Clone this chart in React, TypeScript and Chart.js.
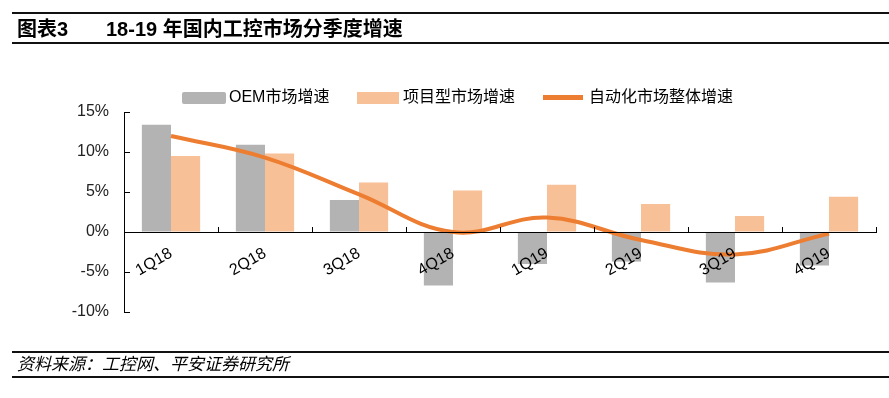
import React, { useEffect, useRef } from "react";
import { Chart, registerables } from "chart.js";

Chart.register(...registerables);

const categories = ["1Q18", "2Q18", "3Q18", "4Q18", "1Q19", "2Q19", "3Q19", "4Q19"];
const oemGrowth = [13.4, 10.9, 4.0, -6.7, -4.0, -3.7, -6.3, -4.2];
const projectGrowth = [9.5, 9.8, 6.2, 5.2, 5.9, 3.5, 2.0, 4.4];
const totalGrowth = [12.0, 9.3, 4.7, 0.0, 1.8, -1.0, -2.8, -0.2];
const seriesNames = ["OEM市场增速", "项目型市场增速", "自动化市场整体增速"];
const yTicks = [-10, -5, 0, 5, 10, 15];

const GRAY = "#B3B3B3";
const PEACH = "#F8C097";
const ORANGE = "#ED7D31";
const FONT = '"Liberation Sans", Arial, "Noto Sans CJK SC", sans-serif';

export default function App() {
  const ref = useRef<HTMLCanvasElement | null>(null);

  useEffect(() => {
    if (!ref.current) return;
    const chart = new Chart(ref.current, {
      type: "bar",
      data: {
        labels: categories,
        datasets: [
          {
            type: "line",
            label: seriesNames[2],
            data: totalGrowth,
            borderColor: ORANGE,
            backgroundColor: ORANGE,
            borderWidth: 4,
            pointRadius: 0,
            tension: 0.4,
            order: 0,
          } as any,
          {
            type: "bar",
            label: seriesNames[0],
            data: oemGrowth,
            backgroundColor: GRAY,
            order: 1,
          },
          {
            type: "bar",
            label: seriesNames[1],
            data: projectGrowth,
            backgroundColor: PEACH,
            order: 2,
          },
        ],
      },
      options: {
        responsive: false,
        animation: false,
        devicePixelRatio: 1,
        datasets: {
          bar: { barPercentage: 1.0, categoryPercentage: 0.62 },
        },
        layout: { padding: { left: 0, right: 13, top: 112, bottom: 86 } },
        plugins: { legend: { display: false }, tooltip: { enabled: false } },
        scales: {
          x: {
            position: { y: 0 } as any,
            grid: {
              drawOnChartArea: false,
              offset: true,
              tickLength: -6,
              color: "#000",
              z: 1,
            },
            border: { display: true, color: "#000", width: 1, z: 1 },
            ticks: {
              z: 2,
              maxRotation: 30,
              minRotation: 30,
              autoSkip: false,
              padding: 18,
              color: "#000",
              font: { family: FONT, size: 16 },
            },
          },
          y: {
            min: -10,
            max: 15,
            afterBuildTicks: (scale: any) => {
              scale.ticks = yTicks.map((v) => ({ value: v }));
            },
            afterFit: (scale: any) => {
              scale.width = 124;
            },
            grid: {
              drawOnChartArea: false,
              tickLength: -6,
              color: "#000",
            },
            border: { display: true, color: "#000", width: 1 },
            ticks: {
              padding: 21,
              color: "#222",
              font: { family: FONT, size: 16 },
              callback: (v: any) => `${v}%`,
            },
          },
        },
      },
    });
    return () => chart.destroy();
  }, []);

  const text: React.CSSProperties = {
    position: "absolute",
    fontFamily: FONT,
    whiteSpace: "nowrap",
    color: "#000",
  };
  const hline = (top: number): React.CSSProperties => ({
    position: "absolute",
    left: 12,
    width: 877,
    top,
    height: 2,
    background: "#111",
  });

  return (
    <div style={{ position: "absolute", left: 0, top: 0, width: 889, height: 398, background: "#fff", overflow: "hidden" }}>
      <canvas ref={ref} width={889} height={398} style={{ position: "absolute", left: 0, top: 0 }} />
      <div style={hline(12)} />
      <div style={hline(42)} />
      <div style={{ ...text, left: 17, top: 17, fontSize: 20, lineHeight: "24px", fontWeight: "bold" }}>图表3</div>
      <div style={{ ...text, left: 106, top: 17, fontSize: 20, lineHeight: "24px", fontWeight: "bold" }}>
        18-19 年国内工控市场分季度增速
      </div>

      <div style={{ position: "absolute", left: 182, top: 92, width: 44, height: 12, background: GRAY, borderRadius: 2 }} />
      <div style={{ ...text, left: 229, top: 88, fontSize: 16, lineHeight: "18px" }}>{seriesNames[0]}</div>
      <div style={{ position: "absolute", left: 357, top: 92, width: 42, height: 12, background: PEACH }} />
      <div style={{ ...text, left: 403, top: 88, fontSize: 16, lineHeight: "18px" }}>{seriesNames[1]}</div>
      <div style={{ position: "absolute", left: 543, top: 95, width: 40, height: 5, background: ORANGE }} />
      <div style={{ ...text, left: 589, top: 88, fontSize: 16, lineHeight: "18px" }}>{seriesNames[2]}</div>

      <div style={hline(351)} />
      <div style={{ ...text, left: 17, top: 355, fontSize: 17, lineHeight: "20px", fontStyle: "italic" }}>
        资料来源：工控网、平安证券研究所
      </div>
      <div style={hline(376)} />
    </div>
  );
}
